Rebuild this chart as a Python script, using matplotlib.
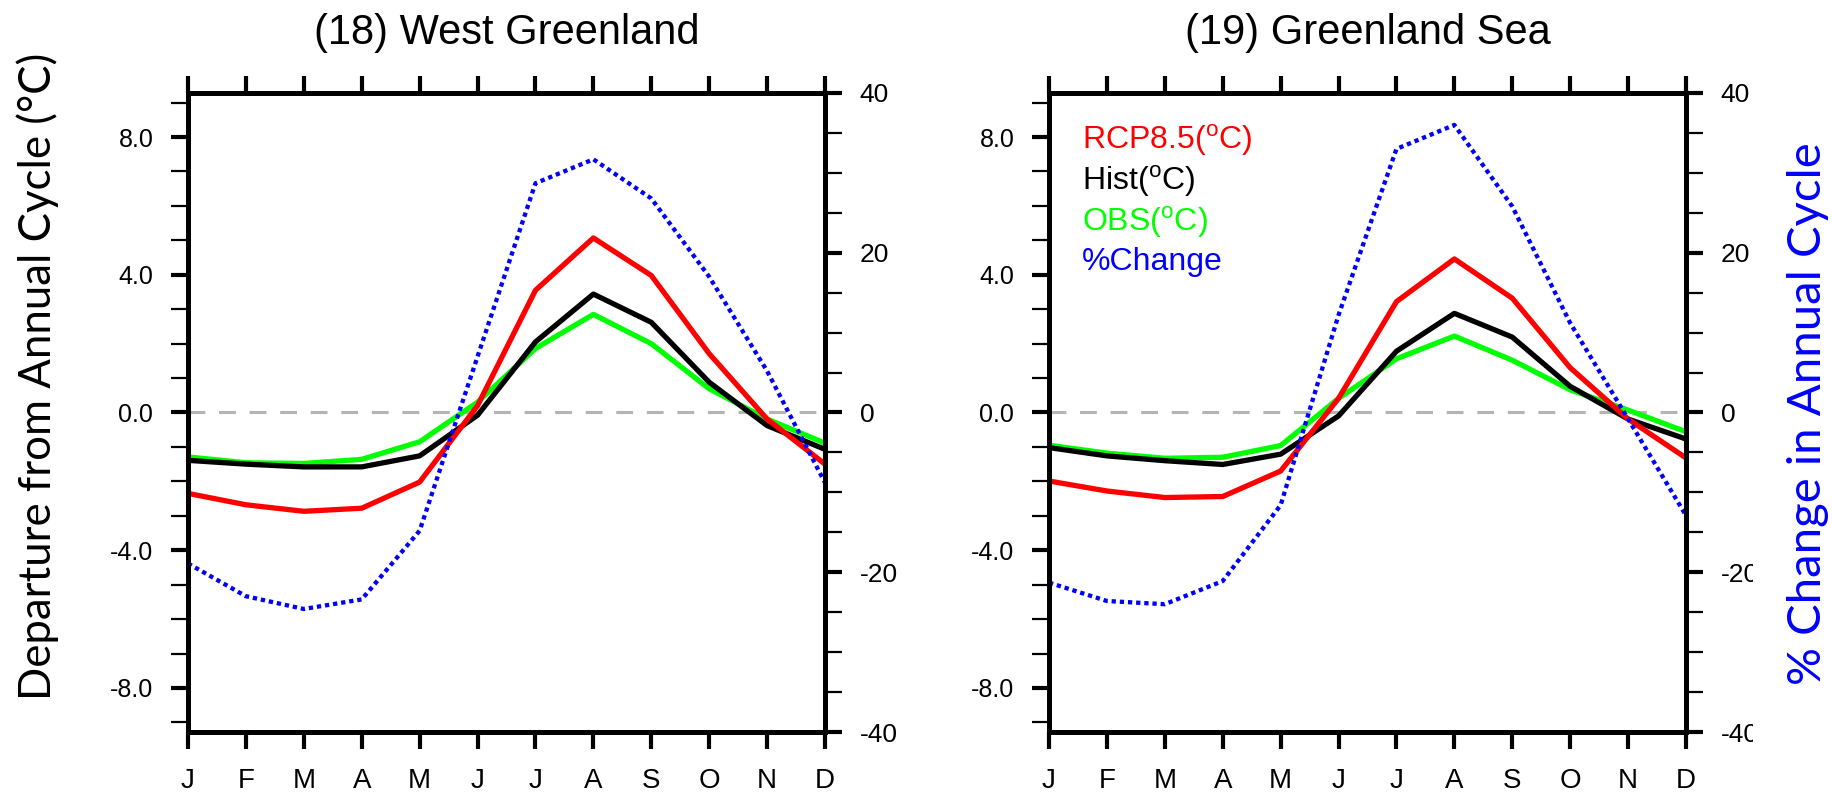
import matplotlib
matplotlib.use("Agg")
import matplotlib.pyplot as plt
from matplotlib.patches import Rectangle
from matplotlib.ticker import MultipleLocator

plt.rcParams['font.family'] = ['Liberation Sans', 'DejaVu Sans']
plt.rcParams['mathtext.fontset'] = 'custom'
plt.rcParams['mathtext.rm'] = 'Liberation Sans'
plt.rcParams['axes.unicode_minus'] = False

# data
months = ['J', 'F', 'M', 'A', 'M', 'J', 'J', 'A', 'S', 'O', 'N', 'D']

titles = ['(18) West Greenland', '(19) Greenland Sea']

wg_rcp = [-2.35, -2.68, -2.87, -2.78, -2.02, 0.20, 3.55, 5.07, 3.98, 1.71, -0.19, -1.50]
wg_hist = [-1.39, -1.50, -1.58, -1.58, -1.26, -0.08, 2.05, 3.44, 2.62, 0.88, -0.38, -1.07]
wg_obs = [-1.29, -1.46, -1.48, -1.36, -0.85, 0.30, 1.86, 2.85, 2.00, 0.69, -0.19, -0.89]
wg_pct = [-18.9, -23.0, -24.6, -23.4, -14.8, 7.0, 28.7, 31.7, 26.8, 17.0, 5.2, -8.8]

gs_rcp = [-1.99, -2.28, -2.47, -2.44, -1.70, 0.41, 3.22, 4.46, 3.32, 1.30, -0.19, -1.32]
gs_hist = [-1.02, -1.26, -1.40, -1.51, -1.21, -0.10, 1.78, 2.88, 2.19, 0.76, -0.19, -0.77]
gs_obs = [-0.95, -1.18, -1.33, -1.30, -0.96, 0.41, 1.56, 2.22, 1.52, 0.66, 0.07, -0.56]
gs_pct = [-21.3, -23.6, -24.0, -21.1, -11.6, 12.2, 33.0, 36.0, 25.8, 11.2, -0.8, -12.9]

legend_labels = [r'RCP8.5($^{\mathrm{o}}$C)', r'Hist($^{\mathrm{o}}$C)',
                 r'OBS($^{\mathrm{o}}$C)', '%Change']
legend_colors = ['#ff0000', 'black', '#00ff00', '#0000ff']

W, H = 1833, 792
fig = plt.figure(figsize=(W / 100, H / 100), dpi=100)


def style_axis(ax, which):
    for s in ax.spines.values():
        s.set_linewidth(3.6)
    ax.tick_params(axis=which, which='major', direction='out', length=12,
                   width=3.0, labelsize=18, pad=13)
    ax.tick_params(axis=which, which='minor', direction='out', length=12,
                   width=1.6)


def panel(left, title, rcp, hist, obs, pct, show_legend):
    ax = fig.add_axes([left / W, 1 - 732 / H, 637 / W, 639 / H])
    x = list(range(len(months)))
    ax.axhline(0, color='#b4b4b4', lw=2.2, ls=(0, (5.5, 4.5)), zorder=1)
    ax.plot(x, obs, color='#00ff00', lw=3.8, zorder=2)
    ax.plot(x, hist, color='black', lw=3.8, zorder=3)
    ax.plot(x, rcp, color='#ff0000', lw=3.8, zorder=4)
    ax.set_xlim(0, 11)
    ax.set_ylim(-9.28, 9.28)
    ax.set_xticks(x)
    ax.set_xticklabels(months)
    ax.set_yticks([-8, -4, 0, 4, 8])
    ax.set_yticklabels(['-8.0', '-4.0', '0.0', '4.0', '8.0'])
    ax.yaxis.set_minor_locator(MultipleLocator(1))
    style_axis(ax, 'both')
    ax.tick_params(axis='x', top=True, labelsize=20, pad=14)
    ax.tick_params(axis='y', right=False, which='both')
    fig.text((left + 318.5) / W, 1 - 33 / H, title, fontsize=30,
             ha='center', va='center')

    ax2 = ax.twinx()
    ax2.plot(x, pct, color='#0000ff', lw=3.1, ls=(0, (1, 0.9)))
    ax2.set_ylim(-40, 40)
    ax2.set_yticks([-40, -20, 0, 20, 40])
    ax2.yaxis.set_minor_locator(MultipleLocator(5))
    style_axis(ax2, 'y')
    ax2.tick_params(axis='y', labelsize=19)

    if show_legend:
        ys = [0.926, 0.862, 0.798, 0.736]
        for lab, col, yy in zip(legend_labels, legend_colors, ys):
            ax.text(0.052, yy, lab, color=col, fontsize=23,
                    transform=ax.transAxes, ha='left', va='center')
    return ax


panel(188, titles[0], wg_rcp, wg_hist, wg_obs, wg_pct, False)
panel(1049, titles[1], gs_rcp, gs_hist, gs_obs, gs_pct, True)

# the right-hand tick labels of the second panel are cut off in the original
fig.patches.append(Rectangle((1753 / W, 0), 40 / W, 1, transform=fig.transFigure,
                             facecolor='white', edgecolor='none', zorder=5))

fig.text(38 / W, 1 - 376 / H, 'Departure from Annual Cycle (\u00b0C)',
         family=['Lato', 'DejaVu Sans'], fontsize=31.5, rotation=90,
         ha='center', va='center', zorder=6)
fig.text(1808 / W, 1 - 414 / H, '% Change in Annual Cycle',
         family=['Lato', 'DejaVu Sans'], fontsize=34, rotation=90,
         color='#0000ff', ha='center', va='center', zorder=6)

fig.savefig('out.png', dpi=100)
